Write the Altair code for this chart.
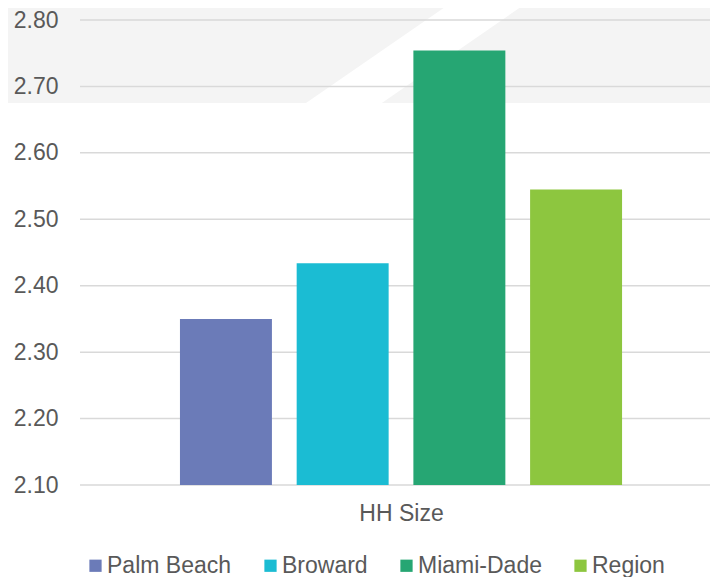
import altair as alt
import pandas as pd

# ---- data ----
counties = ["Palm Beach", "Broward", "Miami-Dade", "Region"]
hh_size = [2.35, 2.434, 2.754, 2.545]
colors = ["#6b7bb8", "#1bbcd3", "#26a673", "#8dc63f"]
y_ticks = [2.1, 2.2, 2.3, 2.4, 2.5, 2.6, 2.7, 2.8]
category_label = "HH Size"

W, H = 630, 465
TXT = "#595959"
FS = 23

df = pd.DataFrame({"county": counties, "value": hh_size})
grid_df = pd.DataFrame({"tick": y_ticks})
one = pd.DataFrame({"k": [0]})

yscale = alt.Scale(domain=[2.1, 2.8], zero=False, nice=False)
yaxis = alt.Axis(values=y_ticks, format=".2f", grid=False, domain=False, ticks=False,
                 labelFontSize=FS, labelColor=TXT, labelPadding=22, title=None, zindex=1)

# decorative background band with a white diagonal stripe
band = alt.Chart(one).mark_rect(color="#f4f4f4").encode(
    x=alt.value(-72), x2=alt.value(W + 20), y=alt.value(-20), y2=alt.value(83))
stripe = alt.Chart(one).mark_rule(color="white", strokeWidth=43, strokeCap="butt").encode(
    x=alt.value(206), y=alt.value(123), x2=alt.value(442), y2=alt.value(-40))

grid = alt.Chart(grid_df).mark_rule(color="#d9d9d9", strokeWidth=1.5).encode(
    y=alt.Y("tick:Q", scale=yscale, axis=yaxis),
    x=alt.value(0), x2=alt.value(W + 20))

bars = alt.Chart(df).mark_bar().encode(
    x=alt.X("county:N", sort=counties,
            scale=alt.Scale(paddingInner=0.212, paddingOuter=0.805, align=0.532),
            axis=alt.Axis(labels=False, ticks=False, domain=False, title=category_label,
                          titleFontSize=FS, titleColor=TXT, titleFontWeight="normal",
                          titleX=321, titleY=28, titleBaseline="middle", titleAlign="center")),
    y=alt.Y("value:Q", scale=yscale, axis=yaxis),
    y2=alt.datum(2.1),
    color=alt.Color("county:N", sort=counties,
                    scale=alt.Scale(domain=counties, range=colors),
                    legend=alt.Legend(orient="none", legendX=4, legendY=534, direction="horizontal",
                                      title=None, symbolType="square", symbolSize=150,
                                      symbolStrokeWidth=0, labelFontSize=FS, labelColor=TXT,
                                      columnPadding=27, labelOffset=0, padding=0)),
)

chart = alt.layer(band, stripe, grid, bars).properties(
    width=W, height=H,
    autosize=alt.AutoSizeParams(type="none"),
    padding={"left": 72, "top": 12, "right": 0, "bottom": 92},
).configure(font="Liberation Sans").configure_view(stroke=None)

chart.save("out.html", embed_options={"renderer": "svg", "actions": False})
